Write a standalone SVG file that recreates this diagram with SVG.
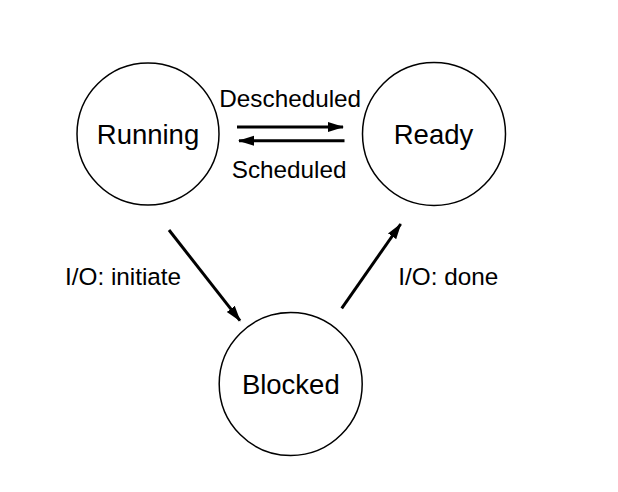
<svg xmlns="http://www.w3.org/2000/svg" width="618" height="492" viewBox="0 0 618 492">
<defs>
<style>
.node{fill:#fff;stroke:#000;stroke-width:1.5}
.nl{font-family:"Liberation Sans",Arial,sans-serif;font-size:27.5px;text-anchor:middle;fill:#000}
.el{font-family:"Liberation Sans",Arial,sans-serif;font-size:24.3px;fill:#000}
.edge{stroke:#000;stroke-width:3;fill:none}
</style>
<marker id="ah" markerUnits="userSpaceOnUse" markerWidth="16" markerHeight="12" viewBox="0 0 16 12" refX="15" refY="6" orient="auto">
<path d="M0,1 L16,6 L0,11 Z" fill="#000"/>
</marker>
</defs>
<rect width="618" height="492" fill="#fff"/>
<g id="running"><circle class="node" cx="148" cy="134" r="71"/><text class="nl" x="148" y="144">Running</text></g>
<g id="ready"><circle class="node" cx="434" cy="134" r="71.5"/><text class="nl" x="433.5" y="144">Ready</text></g>
<g id="blocked"><circle class="node" cx="290.7" cy="384" r="71.5"/><text class="nl" x="290.8" y="394">Blocked</text></g>
<g id="connectors">
<line class="edge" x1="237" y1="127" x2="343" y2="127" marker-end="url(#ah)"/>
<line class="edge" x1="344.5" y1="140.7" x2="239" y2="140.7" marker-end="url(#ah)"/>
<line class="edge" x1="169" y1="230" x2="240" y2="320.7" marker-end="url(#ah)"/>
<line class="edge" x1="341.7" y1="308.3" x2="400.7" y2="224" marker-end="url(#ah)"/>
<text class="el" x="219.3" y="107.3">Descheduled</text>
<text class="el" x="231.7" y="178.3">Scheduled</text>
<text class="el" x="65" y="285">I/O: initiate</text>
<text class="el" x="398.3" y="285">I/O: done</text>
</g>
</svg>
